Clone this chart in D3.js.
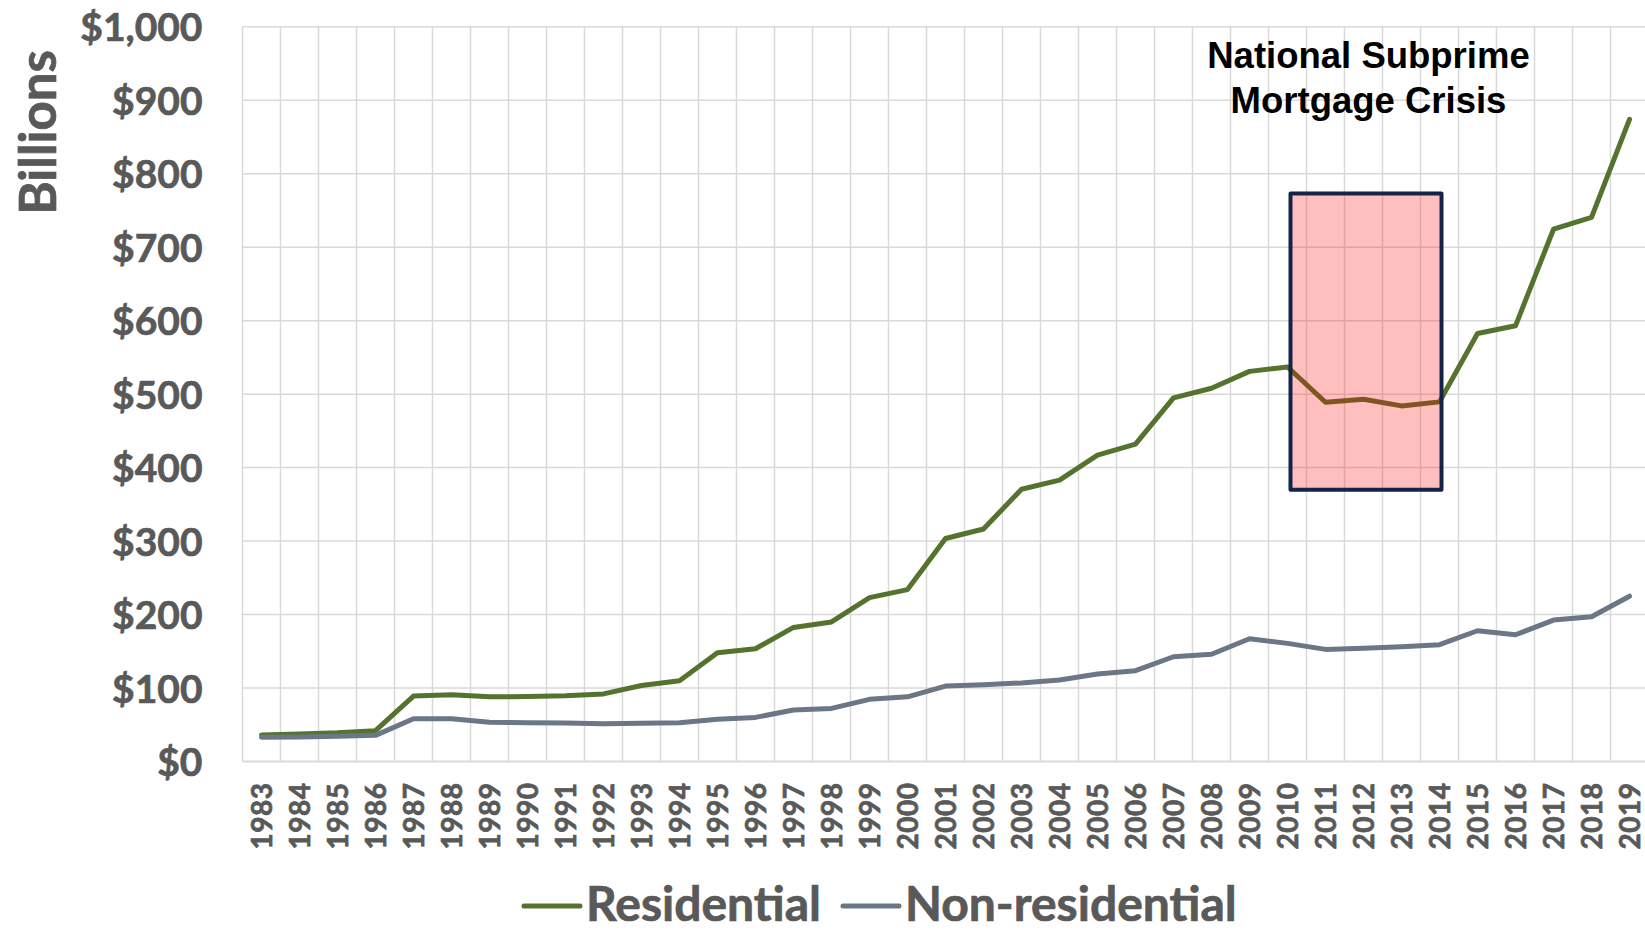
<!DOCTYPE html>
<html>
<head>
<meta charset="utf-8">
<script src="https://cdn.jsdelivr.net/npm/d3@7"></script>
<style>
  html, body { margin: 0; padding: 0; background: #ffffff; }
  svg { display: block; }
</style>
</head>
<body>
<svg id="chart" width="1645" height="931"></svg>
<script>
// ---- Data ----
const years = d3.range(1983, 2020).map(String);
const residential = [36, 37.5, 39, 42, 89, 91, 88, 88.5, 89.5, 92, 103.5, 110,
  148, 153.5, 182.5, 190, 223, 234, 303.5, 316.5, 370.5, 383, 417, 432, 495,
  508, 531, 537, 489, 493, 484, 489.5, 582.5, 593, 724.5, 740.5, 874];
const nonResidential = [33, 33.5, 34.3, 35.6, 58.3, 58.3, 53.3, 52.8, 52.4,
  51.5, 52, 52.8, 57.4, 60, 70, 72.3, 84.6, 88, 102.7, 104.5, 107, 111, 119,
  123.6, 142.6, 146, 167, 160.8, 152.6, 154, 156.2, 159, 178, 172.5, 192.5,
  197, 225];
const yTicks = [0, 100, 200, 300, 400, 500, 600, 700, 800, 900, 1000];
const seriesNames = ["Residential", "Non-residential"];
const crisisYears = ["2010", "2014"];
const crisisRange = [370, 773];
const annotationLines = ["National Subprime", "Mortgage Crisis"];

(function () {
// ---- Layout ----
const svg = d3.select("#chart");
const pLeft = 242.5, pRight = 1648.5, pTop = 26.8, pBottom = 761.5;
const colors = { res: "#54732e", non: "#6b7784", text: "#595959", grid: "#d9d9d9" };
const labelFont = "Lato, 'Open Sans', sans-serif";
const embolden = sel => sel.attr("stroke", colors.text).attr("stroke-width", 0.7)
  .attr("paint-order", "stroke");

const x = d3.scaleBand().domain(years).range([pLeft, pRight]).paddingInner(0).paddingOuter(0);
const y = d3.scaleLinear().domain([0, 1000]).range([pBottom, pTop]);
const cx = d => x(d) + x.bandwidth() / 2;

// gridlines
const grid = svg.append("g");
grid.selectAll("line.v").data(years.concat(["__end"])).join("line")
  .attr("class", "v")
  .attr("x1", (d, i) => pLeft + i * x.step())
  .attr("x2", (d, i) => pLeft + i * x.step())
  .attr("y1", pTop).attr("y2", pBottom)
  .attr("stroke", colors.grid).attr("stroke-width", 1.5);
grid.selectAll("line.h").data(yTicks).join("line")
  .attr("class", "h")
  .attr("x1", pLeft).attr("x2", pRight)
  .attr("y1", d => y(d)).attr("y2", d => y(d))
  .attr("stroke", colors.grid).attr("stroke-width", d => d === 0 ? 2 : 1.5);

// y axis
const yAxis = svg.append("g").attr("transform", `translate(${pLeft},0)`)
  .call(d3.axisLeft(y).tickValues(yTicks).tickSize(0).tickPadding(40)
    .tickFormat(d => "$" + d3.format(",")(d)));
yAxis.select(".domain").remove();
yAxis.selectAll("text")
  .attr("fill", colors.text)
  .style("font-family", labelFont).style("font-weight", 700).style("font-size", "39px")
  .attr("dy", "0.36em")
  .call(embolden);

// x axis
const xAxis = svg.append("g").attr("transform", `translate(0,${pBottom})`)
  .call(d3.axisBottom(x).tickSize(0));
xAxis.select(".domain").remove();
xAxis.selectAll("text")
  .attr("fill", colors.text)
  .style("font-family", labelFont).style("font-weight", 700).style("font-size", "28px")
  .style("letter-spacing", "0.5px")
  .attr("transform", "rotate(-90)")
  .attr("text-anchor", "end")
  .attr("x", -21).attr("y", 0).attr("dy", "0.36em")
  .call(embolden);

// y title
svg.append("text")
  .attr("transform", `translate(56,${(pTop + 218) / 2 + 10}) rotate(-90)`)
  .attr("text-anchor", "middle")
  .attr("fill", colors.text)
  .style("font-family", labelFont).style("font-weight", 700).style("font-size", "51px")
  .text("Billions")
  .call(embolden);

// lines
const line = d3.line().x((d, i) => cx(years[i])).y(d => y(d));
svg.append("path").datum(residential)
  .attr("d", line).attr("fill", "none")
  .attr("stroke", colors.res).attr("stroke-width", 5)
  .attr("stroke-linejoin", "round").attr("stroke-linecap", "round");
svg.append("path").datum(nonResidential)
  .attr("d", line).attr("fill", "none")
  .attr("stroke", colors.non).attr("stroke-width", 5)
  .attr("stroke-linejoin", "round").attr("stroke-linecap", "round");

// crisis box
const bx0 = cx(crisisYears[0]) + 3, bx1 = cx(crisisYears[1]) + 2;
svg.append("rect")
  .attr("x", bx0).attr("y", y(crisisRange[1]))
  .attr("width", bx1 - bx0).attr("height", y(crisisRange[0]) - y(crisisRange[1]))
  .attr("fill", "#ff0000").attr("fill-opacity", 0.25);
svg.append("rect")
  .attr("x", bx0).attr("y", y(crisisRange[1]))
  .attr("width", bx1 - bx0).attr("height", y(crisisRange[0]) - y(crisisRange[1]))
  .attr("fill", "none").attr("stroke", "#132448").attr("stroke-width", 4)
  .attr("stroke-linejoin", "round");

// annotation
const ann = svg.append("text")
  .attr("text-anchor", "middle")
  .attr("fill", "#000")
  .style("font-family", "'Liberation Sans', Arial, sans-serif")
  .style("font-weight", 700).style("font-size", "36.5px");
ann.selectAll("tspan").data(annotationLines).join("tspan")
  .attr("x", 1368.5).attr("y", (d, i) => 68 + i * 44.5)
  .text(d => d);

// legend
const legend = svg.append("g");
const legY = 906;
let lx = 524;
seriesNames.forEach((name, i) => {
  const col = i === 0 ? colors.res : colors.non;
  legend.append("line")
    .attr("x1", lx).attr("x2", lx + 56).attr("y1", legY).attr("y2", legY)
    .attr("stroke", col).attr("stroke-width", 5).attr("stroke-linecap", "round");
  const t = legend.append("text")
    .attr("x", lx + 62).attr("y", 921)
    .attr("fill", colors.text)
    .style("font-family", labelFont).style("font-weight", 700).style("font-size", "48px")
    .text(name)
    .call(embolden);
  lx = lx + 62 + t.node().getComputedTextLength() + 22;
});
})();
</script>
</body>
</html>
